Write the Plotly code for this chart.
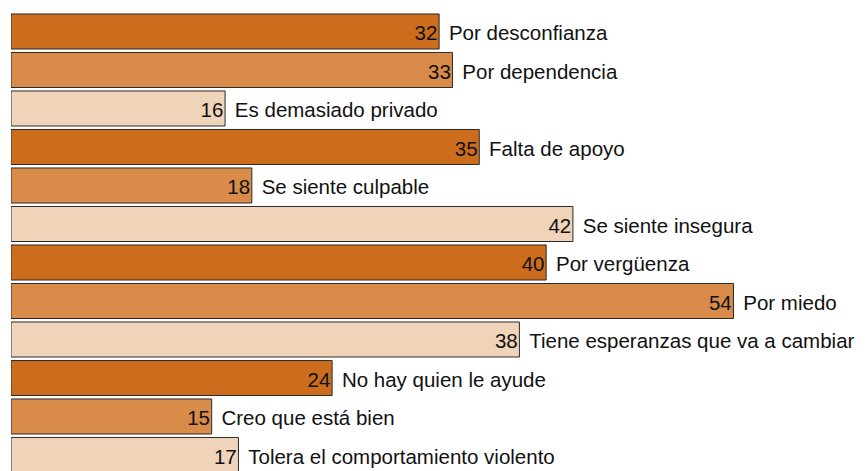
import plotly.graph_objects as go

categories = [
    "Por desconfianza",
    "Por dependencia",
    "Es demasiado privado",
    "Falta de apoyo",
    "Se siente culpable",
    "Se siente insegura",
    "Por vergüenza",
    "Por miedo",
    "Tiene esperanzas que va a cambiar",
    "No hay quien le ayude",
    "Creo que está bien",
    "Tolera el comportamiento violento",
]
values = [32, 33, 16, 35, 18, 42, 40, 54, 38, 24, 15, 17]
palette = ["#CC6D1D", "#D98B4A", "#F0D4B9"]
bar_colors = [palette[i % 3] for i in range(len(values))]

FONT = "Liberation Sans, Arial, Helvetica, sans-serif"
FONT_SIZE = 20.5
Y_RANGE = [11.416, -0.61]
TEXT_SHIFT = 0.10  # in category units, moves text slightly down

fig = go.Figure()
fig.add_trace(go.Bar(
    x=values,
    y=categories,
    orientation="h",
    marker=dict(color=bar_colors, line=dict(color="#2a2a2a", width=1)),
    hoverinfo="skip",
))
# value labels, inside at bar end
fig.add_trace(go.Scatter(
    x=values,
    y=categories,
    yaxis="y2",
    mode="text",
    text=[f"{v}\u200a" for v in values],
    textposition="middle left",
    textfont=dict(family=FONT, size=FONT_SIZE, color="#111111"),
    hoverinfo="skip",
    cliponaxis=False,
))
# category labels, outside
fig.add_trace(go.Scatter(
    x=values,
    y=categories,
    yaxis="y2",
    mode="text",
    text=[" \u2009" + c for c in categories],
    textposition="middle right",
    textfont=dict(family=FONT, size=FONT_SIZE, color="#111111"),
    hoverinfo="skip",
    cliponaxis=False,
))

fig.update_layout(
    width=857,
    height=463,
    margin=dict(l=3, r=0, t=0, b=0),
    paper_bgcolor="white",
    plot_bgcolor="white",
    showlegend=False,
    bargap=0.09,
    xaxis=dict(range=[0, 63.83], visible=False, fixedrange=True),
    yaxis=dict(
        categoryorder="array",
        categoryarray=categories,
        range=Y_RANGE,
        visible=False,
        fixedrange=True,
    ),
    yaxis2=dict(
        overlaying="y",
        categoryorder="array",
        categoryarray=categories,
        range=[Y_RANGE[0] - TEXT_SHIFT, Y_RANGE[1] - TEXT_SHIFT],
        visible=False,
        fixedrange=True,
    ),
)

fig.write_html("out.html")
